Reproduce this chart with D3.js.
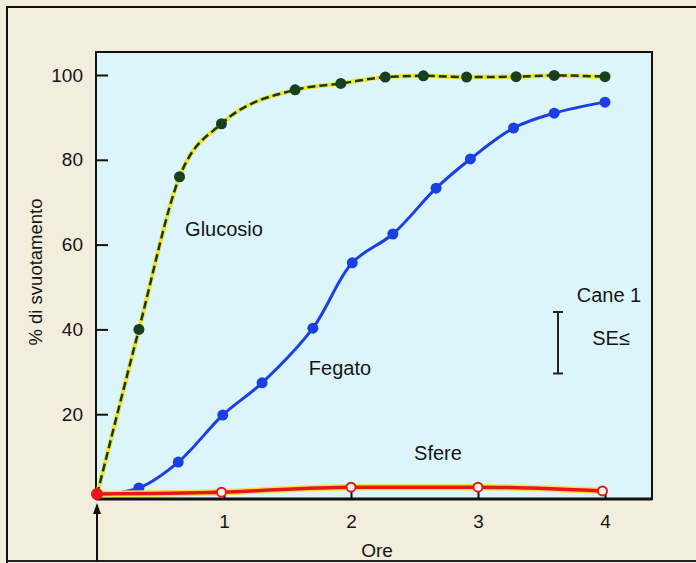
<!DOCTYPE html>
<html><head><meta charset="utf-8">
<script src="https://cdn.jsdelivr.net/npm/d3@7"></script>
<style>html,body{margin:0;padding:0;background:#f3eddd;}svg{display:block;}</style>
</head><body>
<script>
// ---- data ----
const glucosioHours = [0, 0.33, 0.65, 0.98, 1.56, 1.92, 2.27, 2.57, 2.91, 3.30, 3.60, 4.00];
const glucosioValues = [1, 40, 76, 88.5, 96.5, 98, 99.5, 99.8, 99.5, 99.6, 99.9, 99.6];
const fegatoHours = [0, 0.33, 0.64, 0.99, 1.30, 1.70, 2.01, 2.33, 2.67, 2.94, 3.28, 3.60, 4.00];
const fegatoValues = [1, 2.6, 8.7, 19.8, 27.4, 40.3, 55.7, 62.5, 73.3, 80.2, 87.5, 91, 93.6];
const sfereHours = [0, 0.98, 2.00, 3.00, 3.98];
const sfereValues = [1.2, 1.6, 2.8, 2.8, 1.9];
const xTicks = [1, 2, 3, 4];
const yTicks = [20, 40, 60, 80, 100];
const seBar = [0, 14.5]; // standard error bar length (% units)

const W = 696, H = 563;
const svg = d3.select("body").append("svg").attr("width", W).attr("height", H);
const font = "'Liberation Sans', Arial, Helvetica, sans-serif";
const ink = "#151515";

// outer frame
svg.append("rect").attr("x", 0).attr("y", 0).attr("width", W).attr("height", H).attr("fill", "#f3eddd");
svg.append("path").attr("d", `M7,${H} V7 H${W}`).attr("fill", "none").attr("stroke", "#111").attr("stroke-width", 2);
svg.append("line").attr("x1", 7).attr("x2", W).attr("y1", 561).attr("y2", 561).attr("stroke", "#222").attr("stroke-width", 2);

const x = d3.scaleLinear().domain([0, 4]).range([97, 605]);
const y = d3.scaleLinear().domain([0, 100]).range([499, 75]);

const plot = {left: 96, top: 52, right: 652, bottom: 499};
svg.append("rect").attr("x", plot.left).attr("y", plot.top)
  .attr("width", plot.right - plot.left).attr("height", plot.bottom - plot.top)
  .attr("fill", "#dcf5fb").attr("stroke", "#111").attr("stroke-width", 2);
svg.append("line").attr("x1", plot.left).attr("x2", plot.right).attr("y1", plot.bottom).attr("y2", plot.bottom)
  .attr("stroke", "#111").attr("stroke-width", 3);

// y axis (ticks pointing inward)
const yAxis = d3.axisLeft(y).tickValues(yTicks).tickSize(-12).tickPadding(25);
const gy = svg.append("g").attr("transform", `translate(${plot.left},0)`).call(yAxis);
gy.select(".domain").remove();
gy.selectAll(".tick line").attr("stroke", "#111").attr("stroke-width", 2);
gy.selectAll(".tick text").attr("font-family", font).attr("font-size", 19).attr("fill", ink).attr("dx", 12);

// x axis (ticks pointing inward)
const xAxis = d3.axisBottom(x).tickValues(xTicks).tickSize(-8).tickPadding(14).tickFormat(d3.format("d"));
const gx = svg.append("g").attr("transform", `translate(0,${plot.bottom})`).call(xAxis);
gx.select(".domain").remove();
gx.selectAll(".tick line").attr("stroke", "#111").attr("stroke-width", 2);
gx.selectAll(".tick text").attr("font-family", font).attr("font-size", 19).attr("fill", ink).attr("dy", 15);

// axis titles
svg.append("text").attr("x", 377).attr("y", 557).attr("text-anchor", "middle")
  .attr("font-family", font).attr("font-size", 19).attr("fill", ink).text("Ore");
svg.append("text").attr("transform", "translate(42,272) rotate(-90)").attr("text-anchor", "middle")
  .attr("font-family", font).attr("font-size", 18.5).attr("fill", ink).text("% di svuotamento");

// arrow at time 0
svg.append("line").attr("x1", x(0)).attr("x2", x(0)).attr("y1", 561).attr("y2", 510)
  .attr("stroke", "#111").attr("stroke-width", 2);
svg.append("path").attr("d", `M${x(0)},503 L${x(0) - 4},514 L${x(0) + 4},514 Z`).attr("fill", "#111");

const line = d3.line().x(d => x(d[0])).y(d => y(d[1])).curve(d3.curveMonotoneX);
const smooth = d3.line().x(d => x(d[0])).y(d => y(d[1])).curve(d3.curveCatmullRom.alpha(0.5));

// Glucosio
const gData = glucosioHours.map((h, i) => [h, glucosioValues[i]]);
svg.append("path").datum(gData).attr("d", line).attr("fill", "none").attr("stroke", "#eee33e").attr("stroke-width", 4.5);
svg.append("path").datum(gData).attr("d", line).attr("fill", "none").attr("stroke", "#123a1c").attr("stroke-width", 2.5).attr("stroke-dasharray", "8,4");
svg.selectAll(".gdot").data(gData.slice(1)).enter().append("circle")
  .attr("cx", d => x(d[0])).attr("cy", d => y(d[1])).attr("r", 5.5).attr("fill", "#17401f");

// Fegato
const fData = fegatoHours.map((h, i) => [h, fegatoValues[i]]);
svg.append("path").datum(fData).attr("d", smooth).attr("fill", "none").attr("stroke", "#1a3fe6").attr("stroke-width", 3);
svg.selectAll(".fdot").data(fData.slice(1)).enter().append("circle")
  .attr("cx", d => x(d[0])).attr("cy", d => y(d[1])).attr("r", 5.5).attr("fill", "#1a3fe6");

// Sfere
const sData = sfereHours.map((h, i) => [h, sfereValues[i]]);
svg.append("path").datum(sData).attr("d", line).attr("fill", "none").attr("stroke", "#f7e04a").attr("stroke-width", 6.5);
svg.append("path").datum(sData).attr("d", line).attr("fill", "none").attr("stroke", "#e8161c").attr("stroke-width", 3.5);
svg.selectAll(".sdot").data(sData.slice(1)).enter().append("circle")
  .attr("cx", d => x(d[0])).attr("cy", d => y(d[1])).attr("r", 4.5)
  .attr("fill", "#fff6ee").attr("stroke", "#e8161c").attr("stroke-width", 2);
svg.append("circle").attr("cx", x(sData[0][0])).attr("cy", y(sData[0][1])).attr("r", 6).attr("fill", "#e8161c");

// labels
const lab = (t, xx, yy) => svg.append("text").attr("x", xx).attr("y", yy).attr("text-anchor", "middle")
  .attr("font-family", font).attr("font-size", 20).attr("fill", ink).text(t);
lab("Glucosio", 224, 236);
lab("Fegato", 340, 375);
lab("Sfere", 438, 460);
lab("Cane 1", 609, 302);
lab("SE≤", 611, 345);

// SE bar
const seLen = y(seBar[0]) - y(seBar[1]);
const seX = 558, seTop = 312;
svg.append("line").attr("x1", seX).attr("x2", seX).attr("y1", seTop).attr("y2", seTop + seLen).attr("stroke", "#222").attr("stroke-width", 2);
[seTop, seTop + seLen].forEach(yy => svg.append("line").attr("x1", seX - 5).attr("x2", seX + 5).attr("y1", yy).attr("y2", yy).attr("stroke", "#222").attr("stroke-width", 2));
</script>
</body></html>
